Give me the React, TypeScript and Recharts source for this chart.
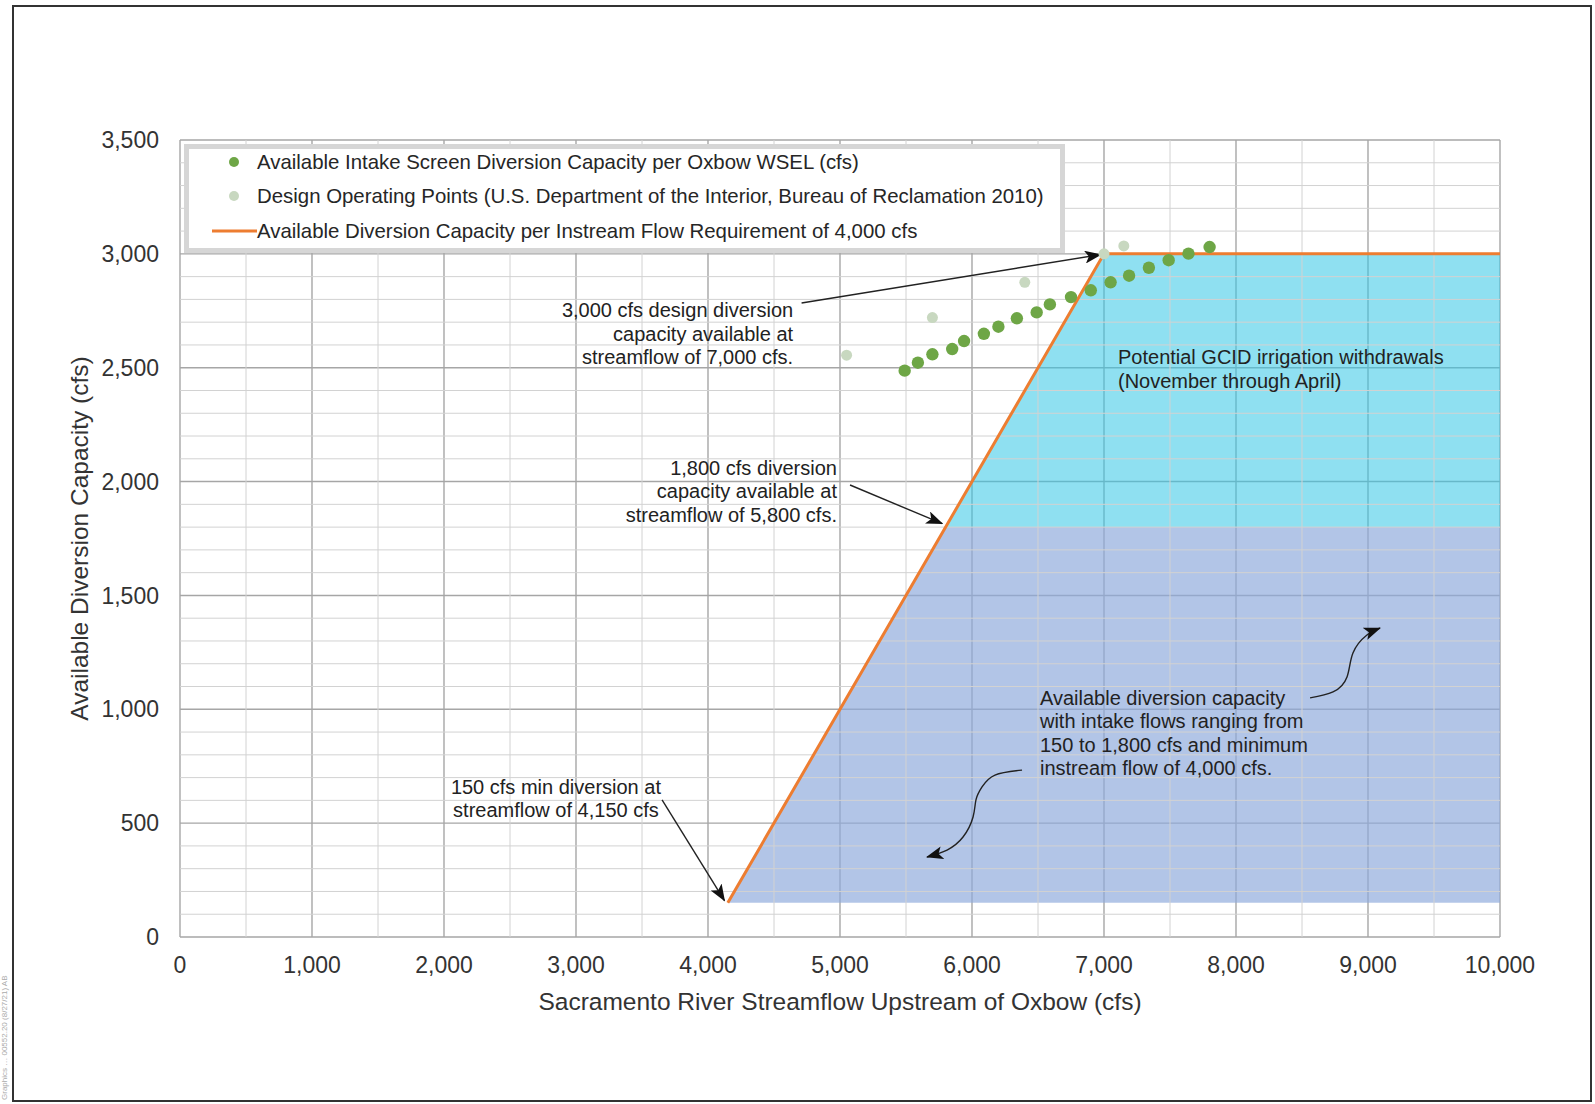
import {
  ComposedChart,
  Area,
  Line,
  Scatter,
  XAxis,
  YAxis,
  CartesianGrid,
  ReferenceLine,
  ReferenceDot,
  Legend,
  Label,
} from 'recharts';

const FONT = '"Liberation Sans", Arial, Helvetica, sans-serif';

// Available intake screen diversion capacity per Oxbow WSEL (cfs)
const intakeFlow = [5490, 5590, 5700, 5850, 5940, 6090, 6200, 6340, 6490, 6590, 6750, 6900, 7050, 7190, 7340, 7490, 7640, 7800];
const intakeCapacity = [2487, 2522, 2559, 2582, 2617, 2649, 2680, 2717, 2743, 2778, 2810, 2840, 2875, 2904, 2939, 2972, 3001, 3030];

// Design operating points (USBR 2010)
const designFlow = [5050, 5700, 6400, 7000, 7150];
const designCapacity = [2555, 2720, 2875, 3000, 3035];

// Capacity per instream flow requirement of 4,000 cfs
const requirementFlow = [4150, 7000, 10000];
const requirementCapacity = [150, 3000, 3000];

// shaded bands (flow, lower, upper)
const lowBandFlow = [4150, 5800, 10000];
const lowBandBottom = [150, 150, 150];
const lowBandTop = [150, 1800, 1800];
const highBandFlow = [5800, 7000, 10000];
const highBandBottom = [1800, 1800, 1800];
const highBandTop = [1800, 3000, 3000];

const xTicks = [0, 1000, 2000, 3000, 4000, 5000, 6000, 7000, 8000, 9000, 10000];
const yTicks = [0, 500, 1000, 1500, 2000, 2500, 3000, 3500];
const xMinor = [500, 1500, 2500, 3500, 4500, 5500, 6500, 7500, 8500, 9500];
const yMinor = [100, 200, 300, 400, 600, 700, 800, 900, 1100, 1200, 1300, 1400, 1600, 1700, 1800, 1900, 2100, 2200, 2300, 2400, 2600, 2700, 2800, 2900, 3100, 3200, 3300, 3400];

const X_TITLE = 'Sacramento River Streamflow Upstream of Oxbow (cfs)';
const Y_TITLE = 'Available Diversion Capacity (cfs)';

const legendItems = [
  { name: 'Available Intake Screen Diversion Capacity per Oxbow WSEL (cfs)', color: '#6ea646', kind: 'dot' },
  { name: 'Design Operating Points (U.S. Department of the Interior, Bureau of Reclamation 2010)', color: '#c8d8c0', kind: 'dot' },
  { name: 'Available Diversion Capacity per Instream Flow Requirement of 4,000 cfs', color: '#ed7d31', kind: 'line' },
];

// text callouts, anchored in data units
const annotations = [
  { x: 4645, y: 2753, anchor: 'end', lines: ['3,000 cfs design diversion', 'capacity available at', 'streamflow of 7,000 cfs.'] },
  { x: 4977, y: 2060, anchor: 'end', lines: ['1,800 cfs diversion', 'capacity available at', 'streamflow of 5,800 cfs.'] },
  { x: 2848, y: 659, anchor: 'middle', lines: ['150 cfs min diversion at', 'streamflow of 4,150 cfs'] },
  { x: 7106, y: 2547, anchor: 'start', lines: ['Potential GCID irrigation withdrawals', '(November through April)'] },
  { x: 6515, y: 1050, anchor: 'start', lines: ['Available diversion capacity', 'with intake flows ranging from', '150 to 1,800 cfs and minimum', 'instream flow of 4,000 cfs.'] },
];

// straight callout arrows
const arrows = [
  { x1: 4709, y1: 2784, x2: 6975, y2: 2997 },
  { x1: 5076, y1: 1985, x2: 5775, y2: 1815 },
  { x1: 3652, y1: 602, x2: 4125, y2: 160 },
];

// curved callout arrows
const upperCurveFlow = [8561, 8735, 8841, 8886, 8992, 9091];
const upperCurveCap = [1050, 1076, 1142, 1247, 1326, 1357];
const lowerCurveFlow = [6379, 6174, 6076, 6030, 6008, 5932, 5811, 5659];
const lowerCurveCap = [733, 711, 659, 602, 527, 439, 382, 351];

const zip = (xs: number[], ys: number[]) => xs.map((x, i) => ({ x, y: ys[i] }));
const band = (xs: number[], lo: number[], hi: number[]) => xs.map((x, i) => ({ x, range: [lo[i], hi[i]] }));

const intakeData = zip(intakeFlow, intakeCapacity);
const designData = zip(designFlow, designCapacity);
const requirementData = zip(requirementFlow, requirementCapacity);
const lowBand = band(lowBandFlow, lowBandBottom, lowBandTop);
const highBand = band(highBandFlow, highBandBottom, highBandTop);
const upperCurve = zip(upperCurveFlow, upperCurveCap);
const lowerCurve = zip(lowerCurveFlow, lowerCurveCap);

const fmt = (v: number) => v.toLocaleString('en-US');

const renderLegend = () => (
  <div
    style={{
      width: 881,
      height: 109,
      boxSizing: 'border-box',
      border: '5px solid #d6d6d6',
      background: '#fff',
      position: 'relative',
      fontFamily: FONT,
    }}
  >
    {legendItems.map((item, i) => (
      <div
        key={item.name}
        style={{ position: 'absolute', left: 0, top: [13, 47, 82][i] - 15, height: 30, display: 'flex', alignItems: 'center' }}
      >
        <svg width={68} height={30} style={{ display: 'block' }}>
          {item.kind === 'dot' ? (
            <circle cx={45} cy={15} r={5} fill={item.color} />
          ) : (
            <line x1={23} x2={68} y1={15} y2={15} stroke={item.color} strokeWidth={3} />
          )}
        </svg>
        <span style={{ fontSize: 20.4, color: '#262626', whiteSpace: 'nowrap', lineHeight: '30px' }}>{item.name}</span>
      </div>
    ))}
  </div>
);

const renderCallout = (ann: (typeof annotations)[number]) => (props: any) => {
  const vb = props.viewBox || {};
  const cx = (vb.x ?? 0) + (vb.width ?? 0) / 2;
  const cy = (vb.y ?? 0) + (vb.height ?? 0) / 2;
  return (
    <text x={cx} y={cy} textAnchor={ann.anchor} fontFamily={FONT} fontSize={20} fill="#222">
      {ann.lines.map((line, i) => (
        <tspan key={i} x={cx} y={cy + i * 23.5} dominantBaseline="central">
          {line}
        </tspan>
      ))}
    </text>
  );
};

const Dot = (color: string, r: number) => (props: any) => <circle cx={props.cx} cy={props.cy} r={r} fill={color} />;

export default function App() {
  return (
    <div style={{ position: 'absolute', left: 0, top: 0, width: 1595, height: 1104, background: '#fff' }}>
      <div
        style={{
          position: 'absolute',
          left: 12,
          top: 5,
          width: 1580,
          height: 1097,
          boxSizing: 'border-box',
          border: '2px solid #333',
        }}
      />
      <svg style={{ position: 'absolute', left: 0, top: 0 }} width={20} height={1104}>
        <text x={7} y={1100} transform="rotate(-90 7 1100)" fontFamily={FONT} fontSize={8} fill="#aaa">
          Graphics … 00552.20 (8/27/21) AB
        </text>
      </svg>
      <div style={{ position: 'absolute', left: 0, top: 0 }}>
        <ComposedChart width={1595} height={1104} margin={{ top: 140, right: 95, bottom: 117, left: 100 }}>
          <defs>
            <marker id="arrowHead" markerUnits="userSpaceOnUse" markerWidth={17} markerHeight={13} refX={16} refY={6.5} orient="auto">
              <path d="M0,0 L17,6.5 L0,13 L4,6.5 Z" fill="#111" />
            </marker>
          </defs>
          <CartesianGrid stroke="#a6a6a6" strokeWidth={1.4} />
          <XAxis
            type="number"
            dataKey="x"
            domain={[0, 10000]}
            ticks={xTicks}
            tickFormatter={fmt}
            allowDataOverflow
            axisLine={false}
            tickLine={false}
            tickSize={6}
            tickMargin={14}
            height={50}
            tick={{ fontSize: 23, fill: '#333', fontFamily: FONT }}
          >
            <Label
              content={(props: any) => {
                const vb = props.viewBox;
                return (
                  <text x={vb.x + vb.width / 2} y={vb.y + 64} textAnchor="middle" dominantBaseline="central" fontFamily={FONT} fontSize={24.5} fill="#333">
                    {X_TITLE}
                  </text>
                );
              }}
            />
          </XAxis>
          <YAxis
            type="number"
            domain={[0, 3500]}
            ticks={yTicks}
            tickFormatter={fmt}
            allowDataOverflow
            axisLine={false}
            tickLine={false}
            tickSize={6}
            tickMargin={15}
            width={80}
            tick={{ fontSize: 23, fill: '#333', fontFamily: FONT }}
          >
            <Label
              content={(props: any) => {
                const vb = props.viewBox;
                const x = vb.x - 21;
                const y = vb.y + vb.height / 2;
                return (
                  <text x={x} y={y} transform={`rotate(-90 ${x} ${y})`} textAnchor="middle" dominantBaseline="central" fontFamily={FONT} fontSize={24.5} fill="#333">
                    {Y_TITLE}
                  </text>
                );
              }}
            />
          </YAxis>
          {xMinor.map((v) => (
            <ReferenceLine key={`vx${v}`} x={v} stroke="#d2d2d2" strokeWidth={1} />
          ))}
          {yMinor.map((v) => (
            <ReferenceLine key={`hy${v}`} y={v} stroke="#d2d2d2" strokeWidth={1} />
          ))}
          <Area
            data={lowBand}
            dataKey="range"
            type="linear"
            stroke="none"
            fill="#8eaadb"
            fillOpacity={0.68}
            legendType="none"
            isAnimationActive={false}
          />
          <Area
            data={highBand}
            dataKey="range"
            type="linear"
            stroke="none"
            fill="#33c7e6"
            fillOpacity={0.55}
            legendType="none"
            isAnimationActive={false}
          />
          <Line
            data={requirementData}
            dataKey="y"
            type="linear"
            stroke="#ed7d31"
            strokeWidth={3}
            dot={false}
            activeDot={false}
            legendType="line"
            name={legendItems[2].name}
            isAnimationActive={false}
          />
          <Scatter
            data={designData}
            dataKey="y"
            name={legendItems[1].name}
            shape={Dot('#c8d8c0', 5.5)}
            isAnimationActive={false}
          />
          <Scatter
            data={intakeData}
            dataKey="y"
            name={legendItems[0].name}
            shape={Dot('#6ea646', 6.2)}
            isAnimationActive={false}
          />
          {arrows.map((a, i) => (
            <ReferenceLine
              key={`arr${i}`}
              segment={[{ x: a.x1, y: a.y1 }, { x: a.x2, y: a.y2 }]}
              stroke="#222"
              strokeWidth={1.4}
              markerEnd="url(#arrowHead)"
              ifOverflow="visible"
            />
          ))}
          <Line
            data={upperCurve}
            dataKey="y"
            type="natural"
            stroke="#222"
            strokeWidth={1.4}
            dot={false}
            activeDot={false}
            legendType="none"
            markerEnd="url(#arrowHead)"
            isAnimationActive={false}
          />
          <Line
            data={lowerCurve}
            dataKey="y"
            type="natural"
            stroke="#222"
            strokeWidth={1.4}
            dot={false}
            activeDot={false}
            legendType="none"
            markerEnd="url(#arrowHead)"
            isAnimationActive={false}
          />
          {annotations.map((ann, i) => (
            <ReferenceDot
              key={`ann${i}`}
              x={ann.x}
              y={ann.y}
              r={0}
              fill="none"
              stroke="none"
              ifOverflow="visible"
              label={renderCallout(ann)}
            />
          ))}
          <Legend
            layout="horizontal"
            verticalAlign="middle"
            align="center"
            content={renderLegend}
            wrapperStyle={{ left: 184, top: 144, width: 881, height: 109, margin: 0 }}
          />
        </ComposedChart>
      </div>
    </div>
  );
}
